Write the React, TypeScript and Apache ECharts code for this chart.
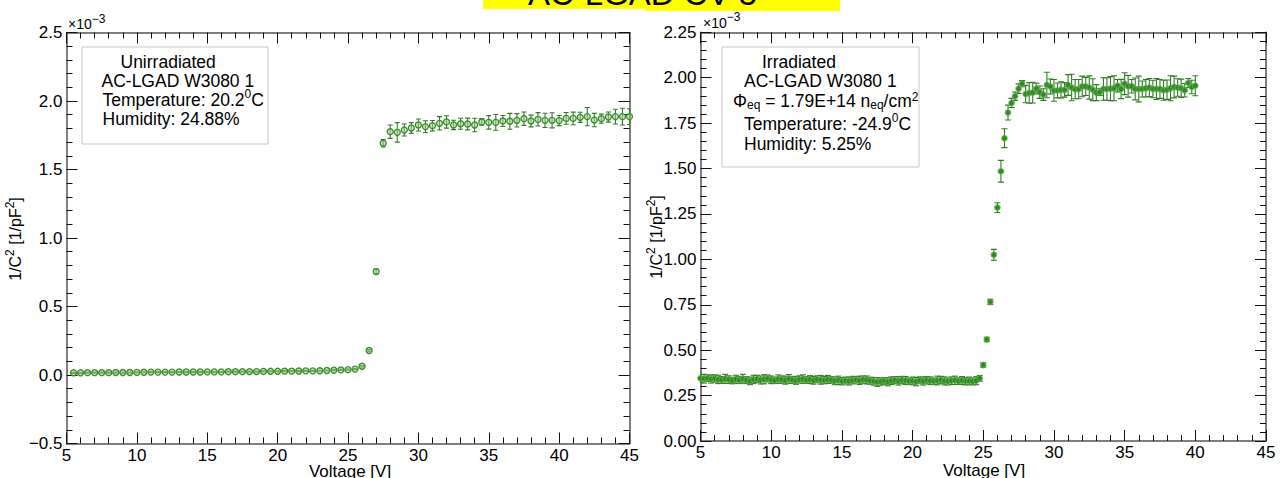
import React, { useEffect, useRef } from "react";
import * as echarts from "echarts";

// ---------- data (values in units of 1e-3 pF^-2) ----------
const leftVoltage = [
  5.5, 6, 6.5, 7, 7.5, 8, 8.5, 9, 9.5, 10,
  10.5, 11, 11.5, 12, 12.5, 13, 13.5, 14, 14.5, 15,
  15.5, 16, 16.5, 17, 17.5, 18, 18.5, 19, 19.5, 20,
  20.5, 21, 21.5, 22, 22.5, 23, 23.5, 24, 24.5, 25,
  25.5, 26, 26.5, 27, 27.5, 28, 28.5, 29, 29.5, 30,
  30.5, 31, 31.5, 32, 32.5, 33, 33.5, 34, 34.5, 35,
  35.5, 36, 36.5, 37, 37.5, 38, 38.5, 39, 39.5, 40,
  40.5, 41, 41.5, 42, 42.5, 43, 43.5, 44, 44.5, 45,
];
const leftC2 = [
  0.016, 0.016, 0.017, 0.017, 0.017, 0.017, 0.018, 0.018, 0.018, 0.019,
  0.020, 0.021, 0.021, 0.021, 0.021, 0.022, 0.022, 0.022, 0.022, 0.023,
  0.023, 0.023, 0.024, 0.024, 0.024, 0.025, 0.025, 0.026, 0.027, 0.027,
  0.028, 0.028, 0.029, 0.030, 0.030, 0.031, 0.033, 0.035, 0.037, 0.039,
  0.043, 0.064, 0.179, 0.755, 1.691, 1.776, 1.771, 1.788, 1.803, 1.825,
  1.813, 1.820, 1.837, 1.847, 1.825, 1.834, 1.832, 1.825, 1.847, 1.844,
  1.844, 1.854, 1.852, 1.859, 1.871, 1.854, 1.866, 1.859, 1.859, 1.857,
  1.873, 1.873, 1.881, 1.886, 1.861, 1.871, 1.883, 1.886, 1.886, 1.886,
];
const leftErr = [
  0.004, 0.004, 0.004, 0.004, 0.004, 0.004, 0.004, 0.004, 0.004, 0.004,
  0.004, 0.004, 0.004, 0.004, 0.004, 0.004, 0.004, 0.004, 0.004, 0.004,
  0.004, 0.004, 0.004, 0.004, 0.004, 0.004, 0.004, 0.004, 0.004, 0.004,
  0.004, 0.004, 0.004, 0.004, 0.004, 0.004, 0.004, 0.004, 0.004, 0.004,
  0.004, 0.005, 0.006, 0.018, 0.027, 0.049, 0.071, 0.044, 0.039, 0.044,
  0.043, 0.038, 0.049, 0.045, 0.034, 0.040, 0.043, 0.049, 0.024, 0.049,
  0.058, 0.040, 0.058, 0.049, 0.049, 0.043, 0.049, 0.052, 0.055, 0.037,
  0.043, 0.046, 0.037, 0.067, 0.049, 0.033, 0.037, 0.054, 0.061, 0.057,
];

const rightVoltage = [
  5, 5.25, 5.5, 5.75, 6, 6.25, 6.5, 6.75, 7, 7.25, 7.5, 7.75,
  8, 8.25, 8.5, 8.75, 9, 9.25, 9.5, 9.75, 10, 10.25, 10.5, 10.75,
  11, 11.25, 11.5, 11.75, 12, 12.25, 12.5, 12.75, 13, 13.25, 13.5, 13.75,
  14, 14.25, 14.5, 14.75, 15, 15.25, 15.5, 15.75, 16, 16.25, 16.5, 16.75,
  17, 17.25, 17.5, 17.75, 18, 18.25, 18.5, 18.75, 19, 19.25, 19.5, 19.75,
  20, 20.25, 20.5, 20.75, 21, 21.25, 21.5, 21.75, 22, 22.25, 22.5, 22.75,
  23, 23.25, 23.5, 23.75, 24, 24.25, 24.5, 24.75, 25, 25.25, 25.5, 25.75,
  26, 26.25, 26.5, 26.75, 27, 27.25, 27.5, 27.75, 28, 28.25, 28.5, 28.75,
  29, 29.25, 29.5, 29.75, 30, 30.25, 30.5, 30.75, 31, 31.25, 31.5, 31.75,
  32, 32.25, 32.5, 32.75, 33, 33.25, 33.5, 33.75, 34, 34.25, 34.5, 34.75,
  35, 35.25, 35.5, 35.75, 36, 36.25, 36.5, 36.75, 37, 37.25, 37.5, 37.75,
  38, 38.25, 38.5, 38.75, 39, 39.25, 39.5, 39.75, 40,
];
const rightC2 = [
  0.345, 0.343, 0.346, 0.341, 0.344, 0.339, 0.336, 0.342, 0.338, 0.333,
  0.340, 0.336, 0.343, 0.335, 0.331, 0.339, 0.342, 0.336, 0.340, 0.344,
  0.337, 0.334, 0.341, 0.338, 0.335, 0.342, 0.337, 0.333, 0.339, 0.341,
  0.336, 0.338, 0.334, 0.340, 0.337, 0.335, 0.339, 0.336, 0.331, 0.334,
  0.329, 0.333, 0.330, 0.335, 0.337, 0.334, 0.338, 0.336, 0.332, 0.329,
  0.325, 0.327, 0.330, 0.326, 0.332, 0.335, 0.331, 0.336, 0.333, 0.329,
  0.331, 0.327, 0.334, 0.330, 0.335, 0.332, 0.329, 0.333, 0.336, 0.331,
  0.328, 0.332, 0.334, 0.330, 0.333, 0.329, 0.331, 0.328, 0.332, 0.345,
  0.418, 0.559, 0.766, 1.025, 1.285, 1.485, 1.667, 1.808, 1.861, 1.898,
  1.940, 1.967, 1.910, 1.916, 1.918, 1.940, 1.920, 1.907, 1.960, 1.952,
  1.930, 1.930, 1.933, 1.933, 1.960, 1.946, 1.937, 1.937, 1.952, 1.952,
  1.946, 1.934, 1.918, 1.921, 1.938, 1.938, 1.940, 1.942, 1.956, 1.938,
  1.967, 1.953, 1.953, 1.938, 1.938, 1.938, 1.942, 1.946, 1.938, 1.938,
  1.938, 1.931, 1.934, 1.942, 1.949, 1.946, 1.942, 1.931, 1.971, 1.949,
  1.956,
];
const rightErr = [
  0.021, 0.024, 0.018, 0.022, 0.020, 0.023, 0.019, 0.025, 0.021, 0.018,
  0.022, 0.020, 0.024, 0.019, 0.021, 0.023, 0.020, 0.022, 0.025, 0.019,
  0.021, 0.018, 0.023, 0.020, 0.022, 0.024, 0.019, 0.021, 0.020, 0.023,
  0.018, 0.022, 0.021, 0.019, 0.024, 0.020, 0.022, 0.018, 0.021, 0.023,
  0.020, 0.019, 0.022, 0.021, 0.018, 0.023, 0.020, 0.022, 0.019, 0.021,
  0.024, 0.020, 0.018, 0.022, 0.021, 0.019, 0.023, 0.020, 0.022, 0.018,
  0.021, 0.023, 0.019, 0.022, 0.020, 0.021, 0.018, 0.024, 0.020, 0.022,
  0.019, 0.021, 0.023, 0.018, 0.022, 0.020, 0.021, 0.019, 0.022, 0.016,
  0.012, 0.012, 0.014, 0.030, 0.027, 0.060, 0.052, 0.041, 0.025, 0.023,
  0.026, 0.017, 0.048, 0.057, 0.057, 0.030, 0.034, 0.032, 0.070, 0.041,
  0.060, 0.041, 0.044, 0.040, 0.057, 0.073, 0.053, 0.053, 0.057, 0.050,
  0.064, 0.060, 0.044, 0.018, 0.062, 0.062, 0.066, 0.069, 0.034, 0.053,
  0.060, 0.060, 0.037, 0.060, 0.071, 0.044, 0.048, 0.050, 0.048, 0.058,
  0.052, 0.055, 0.053, 0.069, 0.060, 0.048, 0.050, 0.037, 0.025, 0.037,
  0.055,
];

const titleText = "AC-LGAD CV 5";
const xTitle = "Voltage [V]";
const leftLegend = ["Unirradiated", "AC-LGAD W3080 1", "Temperature: 20.2", "Humidity: 24.88%"];
const rightLegend = ["Irradiated", "AC-LGAD W3080 1", "1.79E+14", "Temperature: -24.9", "Humidity: 5.25%"];

// ---------- styling ----------
const FONT = '"Liberation Sans", Arial, Helvetica, sans-serif';
const BAR = "#2f7f22";
const AXIS = "#555";
const TICK = { color: "#111", width: 1 };
const LFS = 17.5;

function xAxisDef(gridIndex: number, position: string, labels: boolean) {
  return {
    type: "value",
    gridIndex,
    position,
    min: 5,
    max: 45,
    interval: 5,
    axisLine: { show: true, onZero: false, lineStyle: { color: AXIS, width: 1.5 } },
    axisTick: { show: true, inside: true, length: 11, lineStyle: TICK },
    minorTick: { show: true, splitNumber: 5, length: 6, lineStyle: TICK },
    axisLabel: { show: labels, margin: 3, fontSize: 17, fontFamily: FONT, color: "#000" },
    splitLine: { show: false },
    minorSplitLine: { show: false },
  };
}

function yAxisDef(
  gridIndex: number,
  position: string,
  labels: boolean,
  min: number,
  max: number,
  interval: number,
  digits: number
) {
  return {
    type: "value",
    gridIndex,
    position,
    min,
    max,
    interval,
    axisLine: { show: true, onZero: false, lineStyle: { color: AXIS, width: 1.5 } },
    axisTick: { show: true, inside: true, length: 11, lineStyle: TICK },
    minorTick: { show: true, splitNumber: 5, length: 6, lineStyle: TICK },
    axisLabel: {
      show: labels,
      margin: 4,
      fontSize: 17,
      fontFamily: FONT,
      color: "#000",
      formatter: (v: number) => v.toFixed(digits).replace("-", "\u2212"),
    },
    splitLine: { show: false },
    minorSplitLine: { show: false },
  };
}

function errorBars(xi: number, yi: number, data: number[][], cap: number) {
  return {
    type: "custom",
    xAxisIndex: xi,
    yAxisIndex: yi,
    data,
    clip: true,
    silent: true,
    z: 2,
    encode: { x: 0, y: 1 },
    renderItem: (_p: any, api: any) => {
      const x = api.value(0);
      const y = api.value(1);
      const e = api.value(2);
      const t = api.coord([x, y + e]);
      const b = api.coord([x, y - e]);
      const h = cap / 2;
      const st = { stroke: BAR, lineWidth: 1.1 };
      return {
        type: "group",
        children: [
          { type: "line", shape: { x1: t[0], y1: t[1], x2: b[0], y2: b[1] }, style: st },
          { type: "line", shape: { x1: t[0] - h, y1: t[1], x2: t[0] + h, y2: t[1] }, style: st },
          { type: "line", shape: { x1: b[0] - h, y1: b[1], x2: b[0] + h, y2: b[1] }, style: st },
        ],
      };
    },
  };
}

const rich = {
  s: { fontSize: 12, lineHeight: 12, fontFamily: FONT, fill: "#000", verticalAlign: "top" },
  b: { fontSize: 12, lineHeight: 12, fontFamily: FONT, fill: "#000", verticalAlign: "bottom" },
};

function legendLine(x: number, y: number, text: string, lh = 22) {
  return {
    type: "text",
    x,
    y,
    z: 20,
    style: {
      text,
      rich: {
        n: { fontSize: LFS, fontFamily: FONT, fill: "#000", lineHeight: lh },
        s: rich.s,
        b: rich.b,
      },
      fontSize: LFS,
      fontFamily: FONT,
      fill: "#000",
      align: "left",
      verticalAlign: "middle",
    },
  };
}

export default function App() {
  const ref = useRef<HTMLDivElement>(null);

  useEffect(() => {
    if (!ref.current) return;
    const chart = echarts.init(ref.current, undefined, { renderer: "svg" });

    const leftPts = leftVoltage.map((v, i) => [v, leftC2[i], leftErr[i]]);
    const rightPts = rightVoltage.map((v, i) => [v, rightC2[i], rightErr[i]]);

    const option: any = {
      animation: false,
      backgroundColor: "#fff",
      grid: [
        { left: 66.5, top: 32.5, width: 563, height: 411 },
        { left: 700.5, top: 32.3, width: 565.5, height: 408.7 },
      ],
      xAxis: [
        xAxisDef(0, "bottom", true),
        xAxisDef(0, "top", false),
        xAxisDef(1, "bottom", true),
        xAxisDef(1, "top", false),
      ],
      yAxis: [
        yAxisDef(0, "left", true, -0.5, 2.5, 0.5, 1),
        yAxisDef(0, "right", false, -0.5, 2.5, 0.5, 1),
        yAxisDef(1, "left", true, 0, 2.25, 0.25, 2),
        yAxisDef(1, "right", false, 0, 2.25, 0.25, 2),
      ],
      series: [
        errorBars(0, 0, leftPts, 5),
        {
          type: "scatter",
          xAxisIndex: 0,
          yAxisIndex: 0,
          data: leftPts,
          symbol: "circle",
          symbolSize: 6,
          z: 3,
          itemStyle: {
            color: "rgba(160,205,140,0.55)",
            borderColor: "#3a8a2e",
            borderWidth: 1.3,
            opacity: 1,
          },
        },
        errorBars(2, 2, rightPts, 6),
        {
          type: "scatter",
          xAxisIndex: 2,
          yAxisIndex: 2,
          data: rightPts,
          symbol: "circle",
          symbolSize: 5.5,
          z: 3,
          itemStyle: {
            color: "#2f8a24",
            borderColor: "rgba(100,170,80,0.6)",
            borderWidth: 1.5,
            opacity: 1,
          },
        },
      ],
      graphic: [
        // title banner
        { type: "rect", shape: { x: 483, y: 0, width: 162, height: 9 }, style: { fill: "#ffff00" }, z: 10 },
        { type: "rect", shape: { x: 645, y: 0, width: 195, height: 11 }, style: { fill: "#ffff00" }, z: 10 },
        {
          type: "text",
          x: 528,
          y: 10,
          z: 11,
          style: {
            text: titleText,
            fontSize: 33,
            fontFamily: FONT,
            fill: "#000",
            align: "left",
            verticalAlign: "bottom",
          },
        },
        // legend boxes
        {
          type: "rect",
          shape: { x: 82, y: 47, width: 186, height: 97 },
          style: { fill: "#fff", stroke: "#c8c8c8", lineWidth: 1 },
          z: 15,
        },
        {
          type: "rect",
          shape: { x: 722, y: 47, width: 197, height: 120 },
          style: { fill: "#fff", stroke: "#c8c8c8", lineWidth: 1 },
          z: 15,
        },
        legendLine(120.5, 62, `{n|${leftLegend[0]}}`),
        legendLine(101.5, 80.5, `{n|${leftLegend[1]}}`),
        legendLine(102.5, 99.5, `{n|${leftLegend[2]}}{s|0}{n|C}`, 24),
        legendLine(102.5, 118.5, `{n|${leftLegend[3]}}`),
        legendLine(762, 62, `{n|${rightLegend[0]}}`),
        legendLine(744, 80.5, `{n|${rightLegend[1]}}`),
        legendLine(733, 100.5, `{n|\u03A6}{b|eq}{n| = ${rightLegend[2]} n}{b|eq}{n|/cm}{s|2}`, 20),
        legendLine(744, 124, `{n|${rightLegend[3]}}{s|0}{n|C}`, 24),
        legendLine(744, 143.5, `{n|${rightLegend[4]}}`),
        // x10^-3 multipliers
        {
          type: "text",
          x: 68,
          y: 23.5,
          z: 20,
          style: {
            text: "{m|\u00D710}{s|\u22123}",
            rich: {
              m: { fontSize: 14, lineHeight: 22, fontFamily: FONT, fill: "#000" },
              s: rich.s,
            },
            align: "left",
            verticalAlign: "middle",
          },
        },
        {
          type: "text",
          x: 703,
          y: 23,
          z: 20,
          style: {
            text: "{m|\u00D710}{s|\u22123}",
            rich: {
              m: { fontSize: 14, lineHeight: 24, fontFamily: FONT, fill: "#000" },
              s: rich.s,
            },
            align: "left",
            verticalAlign: "middle",
          },
        },
        // axis titles
        {
          type: "text",
          x: 350,
          y: 471,
          z: 20,
          style: { text: xTitle, fontSize: 17, fontFamily: FONT, fill: "#000", align: "center", verticalAlign: "middle" },
        },
        {
          type: "text",
          x: 984,
          y: 470,
          z: 20,
          style: { text: xTitle, fontSize: 17, fontFamily: FONT, fill: "#000", align: "center", verticalAlign: "middle" },
        },
        {
          type: "text",
          x: 15,
          y: 239,
          rotation: Math.PI / 2,
          z: 20,
          style: {
            text: "{n|1/C}{s|2}{n| [1/pF}{s|2}{n|]}",
            rich: { n: { fontSize: 16, lineHeight: 22, fontFamily: FONT, fill: "#000" }, s: rich.s },
            align: "center",
            verticalAlign: "middle",
          },
        },
        {
          type: "text",
          x: 656,
          y: 237,
          rotation: Math.PI / 2,
          z: 20,
          style: {
            text: "{n|1/C}{s|2}{n| [1/pF}{s|2}{n|]}",
            rich: { n: { fontSize: 16, lineHeight: 22, fontFamily: FONT, fill: "#000" }, s: rich.s },
            align: "center",
            verticalAlign: "middle",
          },
        },
      ],
    };

    chart.setOption(option);
    return () => chart.dispose();
  }, []);

  return (
    <div
      ref={ref}
      style={{ position: "absolute", left: 0, top: 0, width: 1280, height: 478, background: "#fff" }}
    />
  );
}
